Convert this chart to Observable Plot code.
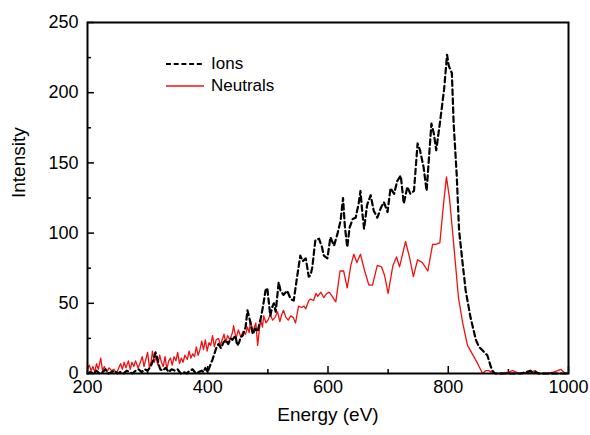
<!DOCTYPE html>
<html><head><meta charset="utf-8">
<script src="https://cdn.jsdelivr.net/npm/d3@7"></script>
<script src="https://cdn.jsdelivr.net/npm/@observablehq/plot@0.6"></script>
<style>
body{margin:0;background:#fff;font-family:"Liberation Sans",Arial,sans-serif}
#wrap{position:relative;width:590px;height:435px}
#legend{position:absolute;left:166px;top:53px;font-size:17px;color:#000}
.row{display:flex;align-items:center;height:22px}
.row svg{margin-right:7px;display:block}
</style></head><body><div id="wrap"><div id="legend"></div></div>
<script>
const seriesNames = ["Ions", "Neutrals"];
const xTitle = "Energy (eV)";
const yTitle = "Intensity";
const xMajor = [200, 400, 600, 800, 1000];
const xMinor = [300, 500, 700, 900];
const yMajor = [0, 50, 100, 150, 200, 250];
const yMinor = [25, 75, 125, 175, 225];

const neutralsEnergy = [200,203,206,209,212,215,218,222,225,228,232,236,240,244,248,252,255,258,261,264,268,271,274,277,280,284,287,291,294,297,300,303,306,308,311,314,317,320,323,326,329,332,335,338,341,344,347,350,353,356,359,362,366,369,372,375,378,381,384,387,390,393,396,399,402,405,408,411,414,418,421,424,427,430,433,437,441,443,447,451,455,459,463,466,469,471,475,480,483,486,488,491,493,497,500,504,508,512,516,520,523,526,530,534,538,542,546,551,556,560,563,568,571,576,580,583,588,593,598,602,607,613,620,626,632,638,643,648,654,661,668,674,682,689,694,700,708,714,719,729,736,742,749,757,766,774,779,786,792,797,802,807,812,817,824,832,840,849,857,862,867,872,880,890,900,907,913,918,925,930,937,945,950,958,965,975,982,987,992,997,1000];
const neutralsIntensity = [3,6,2,5,1,7,3,11,2,5,1,4,2,3,0,4,7,3,8,4,9,3,8,5,9,4,7,12,5,10,15,4,9,16,8,12,6,13,8,5,12,3,9,11,6,12,9,15,7,11,8,13,10,16,11,14,12,19,13,17,23,17,24,16,22,20,27,19,24,25,20,24,28,22,27,24,29,34,25,31,26,30,28,33,29,38,30,36,20,32,38,33,41,36,38,42,38,40,44,37,42,45,40,38,41,40,36,48,47,48,46,52,53,52,57,55,58,54,57,58,55,51,73,73,61,77,85,79,85,73,63,63,77,76,70,57,77,83,76,94,82,69,81,79,73,92,92,93,120,140,125,102,78,54,36,20,14,7,0,2,2,1,0,0,1,2,1,0,0,1,1,2,0,0,0,1,2,3,1,0,0];

const ionsEnergy = [200,205,210,215,220,225,230,235,240,245,250,255,260,265,270,275,280,285,290,295,300,305,310,313,316,318,321,325,330,335,340,345,350,355,360,365,370,375,380,385,390,393,396,400,405,408,411,414,418,422,426,430,434,438,441,446,449,452,455,458,463,466,469,472,475,479,483,488,492,496,499,504,507,510,513,518,521,526,532,538,543,549,554,558,563,568,571,574,579,585,590,593,599,604,610,616,621,625,628,632,636,641,646,651,654,657,660,665,671,676,682,688,693,699,704,710,715,721,726,732,737,743,749,753,759,764,768,772,776,780,786,793,798,801,806,809,814,818,824,829,837,846,851,858,865,870,873,878,890,900,910,920,930,937,941,945,950,960,975,990,1000];
const ionsIntensity = [0,1,0,2,0,1,3,0,1,2,0,1,0,2,1,0,2,3,1,3,2,5,10,15,11,7,3,2,4,1,3,2,3,0,1,0,2,3,0,1,2,1,4,1,7,10,14,18,21,18,22,24,21,25,24,27,20,22,26,27,33,45,40,34,28,32,30,39,48,59,61,41,47,50,44,65,59,56,59,53,52,70,84,80,82,69,70,76,95,96,90,84,82,97,91,100,109,125,105,90,104,110,111,121,130,115,103,120,127,116,111,118,122,115,132,128,137,141,121,133,128,130,164,159,147,130,154,178,171,159,178,202,227,219,214,178,142,102,78,59,40,24,19,16,13,6,2,0,0,0,0,0,1,2,0,1,0,0,0,0,0];

const ions = ionsEnergy.map((e, i) => ({energy: e, intensity: ionsIntensity[i]}));
const neutrals = neutralsEnergy.map((e, i) => ({energy: e, intensity: neutralsIntensity[i]}));

const font = "Liberation Sans, Arial, Helvetica, sans-serif";
const frameH = 435 - 22 - 62;
const frameW = 590 - 87 - 22;
const dash = "5.5,3.5";

const chart = Plot.plot({
  width: 590, height: 435,
  marginLeft: 87, marginRight: 22, marginTop: 22, marginBottom: 62,
  style: {fontFamily: font, fontSize: "18px", color: "#000", background: "#fff"},
  x: {domain: [200, 1000]},
  y: {domain: [0, 250]},
  marks: [
    Plot.axisX({ticks: xMajor, tickSize: 0, tickPadding: 7, tickFormat: d => String(d), label: null, fontSize: 18}),
    Plot.axisY({ticks: yMajor, tickSize: 0, tickPadding: 9, tickFormat: d => String(d), label: null, fontSize: 18}),
    Plot.tickX(xMajor, {x: d => d, insetTop: frameH - 7, stroke: "#000", strokeWidth: 1.5}),
    Plot.tickX(xMinor, {x: d => d, insetTop: frameH - 4, stroke: "#000", strokeWidth: 1.5}),
    Plot.tickY(yMajor, {y: d => d, insetRight: frameW - 7, stroke: "#000", strokeWidth: 1.5}),
    Plot.tickY(yMinor, {y: d => d, insetRight: frameW - 4, stroke: "#000", strokeWidth: 1.5}),
    Plot.line(neutrals, {x: "energy", y: "intensity", stroke: "#f01010", strokeWidth: 1.3}),
    Plot.line(ions, {x: "energy", y: "intensity", stroke: "#000", strokeWidth: 2.2, strokeDasharray: dash}),
    Plot.frame({stroke: "#000", strokeWidth: 2}),
    Plot.text([xTitle], {frameAnchor: "bottom", dy: 47, text: d => d, fontSize: 19}),
    Plot.text([yTitle], {frameAnchor: "left", dx: -69, rotate: -90, text: d => d, fontSize: 19})
  ]
});
document.getElementById("wrap").prepend(chart);

const legend = document.getElementById("legend");
const styles = [
  {stroke: "#000", width: 2.2, dash: "5,2.7"},
  {stroke: "#f01010", width: 1.3, dash: null}
];
seriesNames.forEach((name, i) => {
  const row = document.createElement("div");
  row.className = "row";
  const s = styles[i];
  row.innerHTML = `<svg width="38" height="10"><line x1="0" y1="5" x2="38" y2="5" stroke="${s.stroke}" stroke-width="${s.width}" ${s.dash ? `stroke-dasharray="${s.dash}"` : ""}/></svg><span>${name}</span>`;
  legend.appendChild(row);
});
</script></body></html>
